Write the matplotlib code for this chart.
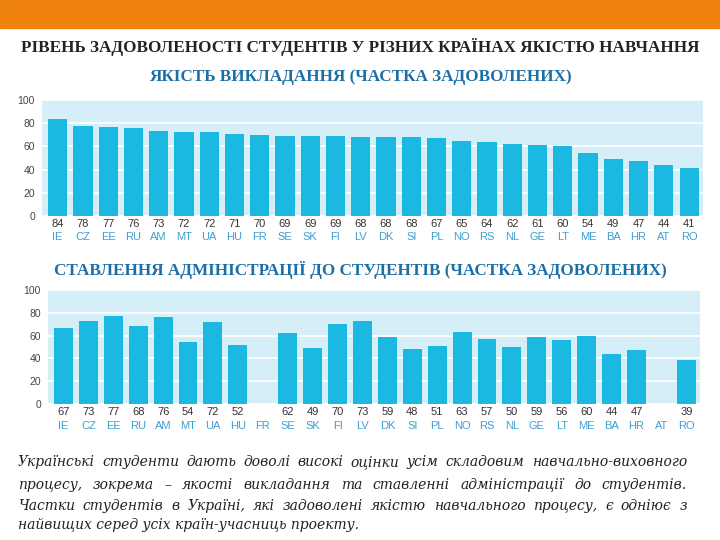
import matplotlib.pyplot as plt
import numpy as np

# --- data ---
countries = ['IE', 'CZ', 'EE', 'RU', 'AM', 'MT', 'UA', 'HU', 'FR', 'SE', 'SK', 'FI', 'LV',
             'DK', 'SI', 'PL', 'NO', 'RS', 'NL', 'GE', 'LT', 'ME', 'BA', 'HR', 'AT', 'RO']
teaching = [84, 78, 77, 76, 73, 72, 72, 71, 70, 69, 69, 69, 68,
            68, 68, 67, 65, 64, 62, 61, 60, 54, 49, 47, 44, 41]
admin = [67, 73, 77, 68, 76, 54, 72, 52, None, 62, 49, 70, 73,
         59, 48, 51, 63, 57, 50, 59, 56, 60, 44, 47, None, 39]
yticks = [0, 20, 40, 60, 80, 100]

title = 'РІВЕНЬ ЗАДОВОЛЕНОСТІ СТУДЕНТІВ У РІЗНИХ КРАЇНАХ ЯКІСТЮ НАВЧАННЯ'
sub1 = 'ЯКІСТЬ ВИКЛАДАННЯ (ЧАСТКА ЗАДОВОЛЕНИХ)'
sub2 = 'СТАВЛЕННЯ АДМІНІСТРАЦІЇ ДО СТУДЕНТІВ (ЧАСТКА ЗАДОВОЛЕНИХ)'
body = ['Українські студенти дають доволі високі '
        '\u043e\u0446\u0456\u043d\u043a\u0438 усім складовим навчально-виховного',
        'процесу, зокрема – якості викладання та ставленні адміністрації до студентів.',
        'Частки студентів в Україні, які задоволені якістю навчального процесу, є одніює з',
        'найвищих серед усіх країн-учасниць проекту.']

BAR = '#1bb8e2'
BG = '#d5eef8'
CODE = '#3d9fd2'

fig = plt.figure(figsize=(7.2, 5.4), dpi=100)
fig.patch.set_facecolor('white')

# orange band on top
fig.patches.append(plt.Rectangle((0, 1 - 28 / 540), 1, 28 / 540, transform=fig.transFigure,
                                 color='#f0820f', zorder=0))

head = dict(ha='center', va='center', family='Liberation Serif', weight='bold')
fig.text(0.5, 1 - 47 / 540, title, fontsize=12.3, color='#222222', **head)
fig.text(0.5, 1 - 77 / 540, sub1, fontsize=12.3, color='#1c6fa6', **head)
fig.text(0.5, 1 - 270 / 540, sub2, fontsize=12.3, color='#1c6fa6', **head)


def bar_panel(rect, values, val_y, code_y):
    ax = fig.add_axes(rect)
    ax.set_facecolor(BG)
    x = np.arange(len(countries))
    h = [v if v is not None else 0 for v in values]
    ax.bar(x, h, width=0.76, color=BAR, zorder=3)
    ax.set_xlim(-0.62, len(countries) - 0.45)
    ax.set_ylim(0, 100)
    ax.set_yticks(yticks)
    ax.yaxis.grid(True, color='white', linewidth=1.2, zorder=1)
    ax.set_xticks([])
    ax.tick_params(axis='y', length=0, pad=5, labelsize=7.5, labelcolor='#444444')
    for lab in ax.get_yticklabels():
        lab.set_family('Liberation Sans')
    for s in ax.spines.values():
        s.set_visible(False)
    tr = ax.get_xaxis_transform()
    for xi, v, c in zip(x, values, countries):
        if v is not None:
            ax.text(xi, val_y, str(v), transform=tr, ha='center', va='center',
                    fontsize=8, family='Liberation Sans', color='#333333')
        ax.text(xi, code_y, c, transform=tr, ha='center', va='center',
                fontsize=8, family='Liberation Sans', color=CODE)
    return ax


ax1 = bar_panel([42 / 720, 1 - 216 / 540, 661 / 720, 116 / 540], teaching, -0.07, -0.18)
ax2 = bar_panel([48 / 720, 1 - 404 / 540, 652 / 720, 114 / 540], admin, -0.07, -0.19)

# justified italic paragraph (baselines in pixels from the top)
fig.canvas.draw()
r = fig.canvas.get_renderer()
left, right = 18 / 720, 687 / 720
line_y = [466, 489, 510, 529]
for i, (line, yy) in enumerate(zip(body, line_y)):
    words = line.split(' ')
    kw = dict(fontsize=10, family='DejaVu Serif', style='italic', color='#222222',
              va='baseline', ha='left')
    if i == len(body) - 1:
        fig.text(left, 1 - yy / 540, line, **kw)
        continue
    objs = [fig.text(0, 1 - yy / 540, w, **kw) for w in words]
    widths = [o.get_window_extent(r).width / fig.bbox.width for o in objs]
    gap = (right - left - sum(widths)) / (len(words) - 1)
    xpos = left
    for o, w in zip(objs, widths):
        o.set_x(xpos)
        xpos += w + gap

fig.savefig('out.png', dpi=100)
